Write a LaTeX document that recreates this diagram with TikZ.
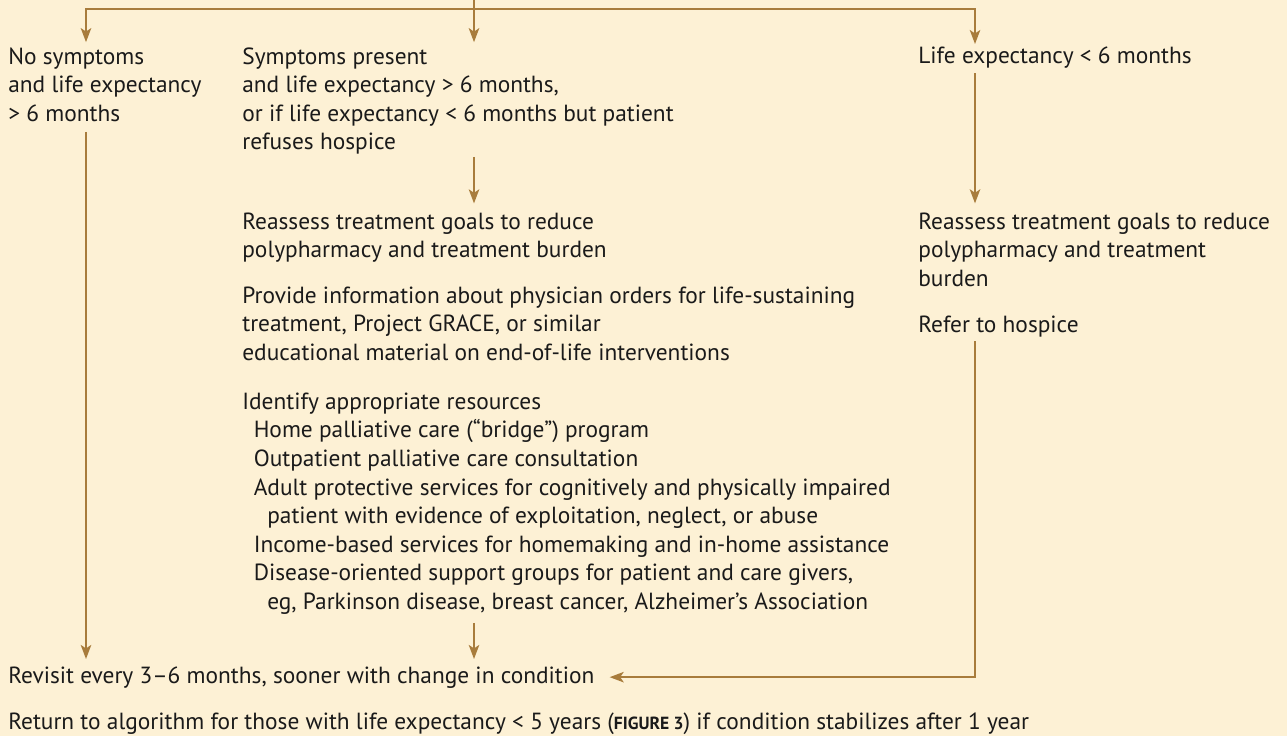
\documentclass[tikz,border=0pt]{standalone}
\usepackage{fontspec}
\setmainfont{PT Sans}
\usetikzlibrary{arrows.meta,positioning}
\definecolor{bgcol}{RGB}{253,241,213}
\definecolor{linecol}{RGB}{168,124,60}
\definecolor{txtcol}{RGB}{26,26,26}

\begin{document}
\begin{tikzpicture}[x=0.02cm,y=-0.02cm,
	txt/.style={anchor=base west,inner sep=0pt,align=left,text=txtcol,
	font=\fontsize{13.3pt}{16.3pt}\selectfont},
	flow/.style={draw=linecol,line width=0.9pt},
	arr/.style={flow,-{Stealth[length=8pt,width=6pt,inset=2pt]}}]
\fill[bgcol] (0,0) rectangle (1287,736);
\useasboundingbox (0,0) rectangle (1287,736);
\coordinate (top) at (474,0);
\coordinate (split) at (474,9);
\coordinate (colL) at (86,0);
\coordinate (colR) at (975,0);
\node [txt] (nosym) at (8,121.3) {No symptoms\\and life expectancy\\> 6 months};
\node [txt] (sympres) at (242,150) {Symptoms present\\and life expectancy > 6 months,\\or if life expectancy < 6 months but patient\\refuses hospice};
\node [txt] (lifelt) at (918,64) {Life expectancy < 6 months};
\node [txt] (reassessM) at (242,257.7) {Reassess treatment goals to reduce\\polypharmacy and treatment burden};
\node [txt] (provide) at (242,360.3) {Provide information about physician orders for life-sustaining\\treatment, Project GRACE, or similar\\educational material on end-of-life interventions};
\node [txt] (identify) at (242,609.6) {Identify appropriate resources\\
\hspace*{6.5pt}Home palliative care (“bridge”) program\\
\hspace*{6.5pt}Outpatient palliative care consultation\\
\hspace*{6.5pt}Adult protective services for cognitively and physically impaired\\
\hspace*{14.2pt}patient with evidence of exploitation, neglect, or abuse\\
\hspace*{6.5pt}Income-based services for homemaking and in-home assistance\\
\hspace*{6.5pt}Disease-oriented support groups for patient and care givers,\\
\hspace*{14.2pt}eg, Parkinson disease, breast cancer, Alzheimer’s Association};
\node [txt] (reassessR) at (918,286.3) {Reassess treatment goals to reduce\\polypharmacy and treatment\\burden};
\node [txt] (hospice) at (918,333) {Refer to hospice};
\node [txt] (revisit) at (8,683) {Revisit every 3–6 months, sooner with change in condition};
\node [txt] (returnalg) at (8,729) {Return to algorithm for those with life expectancy < 5 years ({\fontsize{10pt}{16.3pt}\selectfont\bfseries FIGURE 3}) if condition stabilizes after 1 year};
\draw [flow] (top) -- (split);
\draw [arr,shorten >=2.8pt] (split) -| (colL |- nosym.north);
\draw [arr,shorten >=2.8pt] (split) -- (top |- sympres.north);
\draw [arr,shorten >=1.7pt] (split) -| (colR |- lifelt.north);
\draw [arr,shorten <=5.7pt,shorten >=4pt] (colL |- nosym.south) -- (colL |- revisit.north);
\draw [arr,shorten <=1pt,shorten >=5pt] (top |- sympres.south) -- (top |- reassessM.north);
\draw [arr,shorten <=4.5pt,shorten >=4pt] (top |- identify.south) -- (top |- revisit.north);
\draw [arr,shorten <=2.3pt,shorten >=5pt] (colR |- lifelt.south) -- (colR |- reassessR.north);
\draw [arr,shorten <=1.7pt,shorten >=8.5pt] (colR |- hospice.south) |- (revisit.east);
\end{tikzpicture}
\end{document}
